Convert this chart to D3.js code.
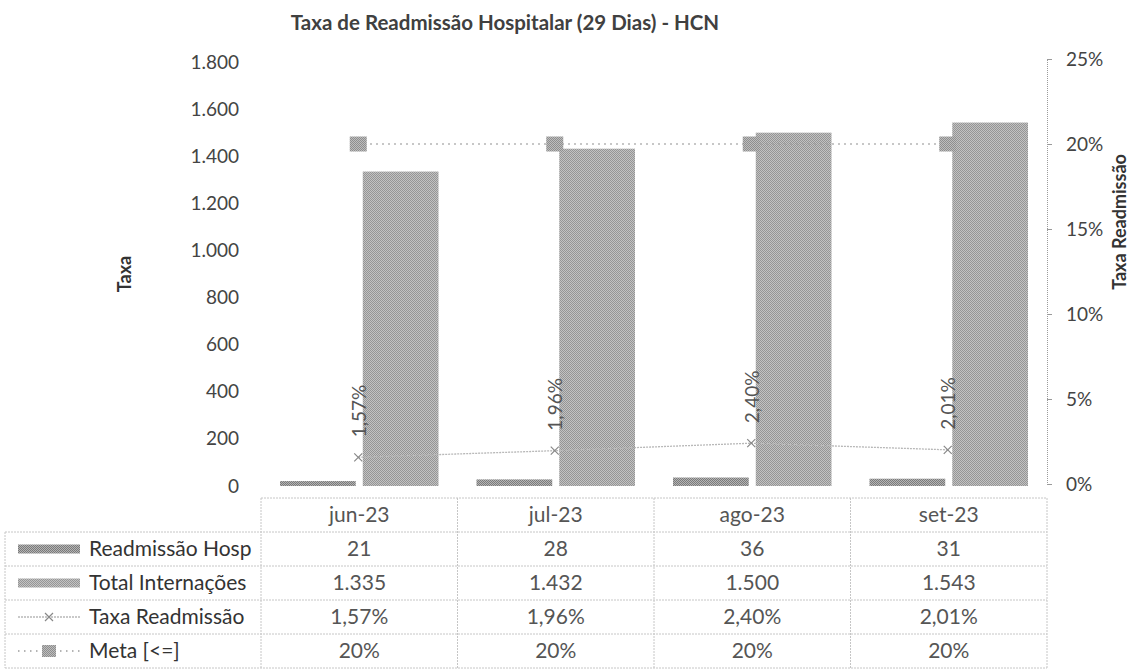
<!DOCTYPE html>
<html>
<head>
<meta charset="utf-8">
<script src="https://cdn.jsdelivr.net/npm/d3@7"></script>
<style>
  html, body { margin: 0; padding: 0; background: #fff; }
  svg { display: block; font-family: Lato, "Open Sans", sans-serif; }
</style>
</head>
<body>
<svg id="chart" width="1143" height="672"></svg>
<script>
// ---------- data ----------
const categories = ["jun-23", "jul-23", "ago-23", "set-23"];
const readmissaoHosp = [21, 28, 36, 31];
const totalInternacoes = [1335, 1432, 1500, 1543];
const taxaReadmissao = [0.0157, 0.0196, 0.0240, 0.0201];
const meta = [0.20, 0.20, 0.20, 0.20];
const leftTicks = [0, 200, 400, 600, 800, 1000, 1200, 1400, 1600, 1800];
const rightTicks = [0, 0.05, 0.10, 0.15, 0.20, 0.25];
const seriesNames = ["Readmissão Hosp", "Total Internações", "Taxa Readmissão", "Meta [<=]"];
const chartTitle = "Taxa de Readmissão Hospitalar (29 Dias) - HCN";
const leftTitle = "Taxa";
const rightTitle = "Taxa Readmissão";

// ---------- setup ----------
const pt = d3.formatLocale({decimal: ",", thousands: ".", grouping: [3], currency: ["R$", ""]});
const fmtInt = pt.format(",d");
const fmtPct2 = pt.format(".2%");
const fmtPct0 = pt.format(".0%");

const svg = d3.select("#chart");
const plotL = 261, plotR = 1047;

const x0 = d3.scaleBand().domain(categories).range([plotL, plotR]).padding(0);
const x1 = d3.scaleBand().domain(["readm", "total"])
  .range([19, x0.bandwidth() - 19]).paddingInner(0.085);
const yL = d3.scaleLinear().domain([0, 1800]).range([486, 62]);
const yR = d3.scaleLinear().domain([0, 0.25]).range([484, 59]);

// patterns to mimic the scanned halftone
const defs = svg.append("defs");
function halftone(id, dark, light) {
  const p = defs.append("pattern").attr("id", id).attr("width", 2).attr("height", 2)
    .attr("patternUnits", "userSpaceOnUse");
  p.append("rect").attr("width", 2).attr("height", 2).attr("fill", light);
  p.append("rect").attr("width", 1).attr("height", 1).attr("fill", dark);
  p.append("rect").attr("x", 1).attr("y", 1).attr("width", 1).attr("height", 1).attr("fill", dark);
}
halftone("patReadm", "#7a7a7a", "#b4b4b4");
halftone("patTotal", "#959595", "#c2c2c2");
halftone("patMeta", "#8e8e8e", "#bdbdbd");

// ---------- title ----------
svg.append("text").attr("x", 505).attr("y", 30).attr("text-anchor", "middle")
  .attr("font-size", 20.5).attr("font-weight", "bold").attr("fill", "#404040")
  .text(chartTitle);

// ---------- axes ----------
const axL = svg.append("g").attr("transform", `translate(${plotL},0)`)
  .call(d3.axisLeft(yL).tickValues(leftTicks).tickFormat(fmtInt).tickSize(0).tickPadding(22));
axL.select(".domain").remove();
axL.selectAll("text").attr("font-size", 19).attr("fill", "#444").attr("font-family", "Lato, sans-serif");

const axR = svg.append("g").attr("transform", `translate(${plotR},0)`)
  .call(d3.axisRight(yR).tickValues(rightTicks).tickFormat(fmtPct0).tickSize(5).tickSizeOuter(5).tickPadding(14));
axR.select(".domain").attr("stroke", "#9a9a9a").attr("stroke-dasharray", "1,1");
axR.selectAll(".tick line").attr("stroke", "#9a9a9a");
axR.selectAll("text").attr("font-size", 19).attr("fill", "#444").attr("font-family", "Lato, sans-serif");

svg.append("text").attr("transform", `translate(131,${(yL.range()[0] + yL.range()[1]) / 2}) rotate(-90)`)
  .attr("text-anchor", "middle").attr("font-size", 18).attr("font-weight", "bold").attr("fill", "#333")
  .text(leftTitle);
svg.append("text").attr("transform", `translate(1126,222) rotate(-90)`)
  .attr("text-anchor", "middle").attr("font-size", 18).attr("font-weight", "bold").attr("fill", "#333")
  .text(rightTitle);

// ---------- bars ----------
const rows = categories.map((c, i) => ({
  cat: c, readm: readmissaoHosp[i], total: totalInternacoes[i], taxa: taxaReadmissao[i], meta: meta[i]
}));
const g = svg.append("g");
g.selectAll("rect.readm").data(rows).join("rect").attr("class", "readm")
  .attr("x", d => x0(d.cat) + x1("readm")).attr("width", x1.bandwidth())
  .attr("y", d => yL(d.readm)).attr("height", d => yL(0) - yL(d.readm))
  .attr("fill", "url(#patReadm)");
g.selectAll("rect.total").data(rows).join("rect").attr("class", "total")
  .attr("x", d => x0(d.cat) + x1("total")).attr("width", x1.bandwidth())
  .attr("y", d => yL(d.total)).attr("height", d => yL(0) - yL(d.total))
  .attr("fill", "url(#patTotal)");

// ---------- lines ----------
const cx = d => x0(d.cat) + x0.bandwidth() / 2 - 1;
const metaLine = d3.line().x(cx).y(d => yR(d.meta));
g.append("path").datum(rows).attr("d", metaLine).attr("fill", "none")
  .attr("stroke", "#9c9c9c").attr("stroke-width", 1.6).attr("stroke-dasharray", "1.5,4.5");
g.selectAll("rect.metaMark").data(rows).join("rect").attr("class", "metaMark")
  .attr("x", d => cx(d) - 8.5).attr("y", d => yR(d.meta) - 7.5)
  .attr("width", 17).attr("height", 15).attr("fill", "url(#patMeta)");

const taxaLine = d3.line().x(cx).y(d => yR(d.taxa));
g.append("path").datum(rows).attr("d", taxaLine).attr("fill", "none")
  .attr("stroke", "#b8b8b8").attr("stroke-width", 1.3).attr("stroke-dasharray", "2,1");
g.selectAll("path.xmark").data(rows).join("path").attr("class", "xmark")
  .attr("d", d => { const X = cx(d), Y = yR(d.taxa); return `M${X-4},${Y-4}L${X+4},${Y+4}M${X-4},${Y+4}L${X+4},${Y-4}`; })
  .attr("stroke", "#888").attr("stroke-width", 1.2);

g.selectAll("text.lbl").data(rows).join("text").attr("class", "lbl")
  .attr("transform", d => `translate(${cx(d) + 1},${yR(d.taxa) - 20}) rotate(-90)`)
  .attr("dy", "0.35em").attr("text-anchor", "start")
  .attr("font-size", 19).attr("fill", "#555")
  .text(d => fmtPct2(d.taxa));

// ---------- data table ----------
const tTop = 498, rowH = 34, tLeft = 5;
const tbl = svg.append("g");
const lineCol = "#c6c6c6";
const tFont = 21;
tbl.append("line").attr("x1", plotL).attr("x2", plotR).attr("y1", tTop).attr("y2", tTop)
  .attr("stroke", lineCol).attr("stroke-dasharray", "2,1");
for (let r = 1; r <= 5; r++) {
  tbl.append("line").attr("x1", tLeft).attr("x2", plotR).attr("y1", tTop + r * rowH).attr("y2", tTop + r * rowH)
    .attr("stroke", lineCol).attr("stroke-dasharray", "2,1");
}
const colEdges = categories.map(c => x0(c)).concat([plotR]);
colEdges.forEach(xv => {
  tbl.append("line").attr("x1", xv).attr("x2", xv).attr("y1", tTop).attr("y2", tTop + 5 * rowH)
    .attr("stroke", lineCol).attr("stroke-dasharray", "2,1");
});
tbl.append("line").attr("x1", tLeft).attr("x2", tLeft).attr("y1", tTop + rowH).attr("y2", tTop + 5 * rowH)
  .attr("stroke", lineCol).attr("stroke-dasharray", "2,1");

tbl.selectAll("text.hdr").data(categories).join("text").attr("class", "hdr")
  .attr("x", c => x0(c) + x0.bandwidth() / 2).attr("y", tTop + rowH / 2).attr("dy", "0.35em")
  .attr("text-anchor", "middle").attr("font-size", tFont).attr("fill", "#555").text(c => c);

const tableRows = [
  {name: seriesNames[0], vals: readmissaoHosp.map(fmtInt)},
  {name: seriesNames[1], vals: totalInternacoes.map(fmtInt)},
  {name: seriesNames[2], vals: taxaReadmissao.map(fmtPct2)},
  {name: seriesNames[3], vals: meta.map(fmtPct0)}
];
tableRows.forEach((tr, r) => {
  const yc = tTop + (r + 1) * rowH + rowH / 2;
  tbl.append("text").attr("x", 89).attr("y", yc).attr("dy", "0.35em")
    .attr("font-size", tFont).attr("fill", "#333").text(tr.name);
  tr.vals.forEach((v, i) => {
    tbl.append("text").attr("x", x0(categories[i]) + x0.bandwidth() / 2).attr("y", yc).attr("dy", "0.35em")
      .attr("text-anchor", "middle").attr("font-size", tFont).attr("fill", "#555").text(v);
  });
  const kx0 = 18, kx1 = 80, kc = (kx0 + kx1) / 2;
  if (r === 0 || r === 1) {
    tbl.append("rect").attr("x", kx0).attr("y", yc - 4.5).attr("width", kx1 - kx0).attr("height", 9)
      .attr("fill", r === 0 ? "url(#patReadm)" : "url(#patTotal)");
  } else if (r === 2) {
    tbl.append("line").attr("x1", kx0).attr("x2", kx1).attr("y1", yc).attr("y2", yc)
      .attr("stroke", "#b8b8b8").attr("stroke-width", 1.3).attr("stroke-dasharray", "2,1");
    tbl.append("path").attr("d", `M${kc-4},${yc-4}L${kc+4},${yc+4}M${kc-4},${yc+4}L${kc+4},${yc-4}`)
      .attr("stroke", "#888").attr("stroke-width", 1.2);
  } else {
    tbl.append("line").attr("x1", kx0).attr("x2", kx1).attr("y1", yc).attr("y2", yc)
      .attr("stroke", "#9c9c9c").attr("stroke-width", 1.6).attr("stroke-dasharray", "1.5,4.5");
    tbl.append("rect").attr("x", kc - 7).attr("y", yc - 6).attr("width", 14).attr("height", 12)
      .attr("fill", "url(#patMeta)");
  }
});
</script>
</body>
</html>
